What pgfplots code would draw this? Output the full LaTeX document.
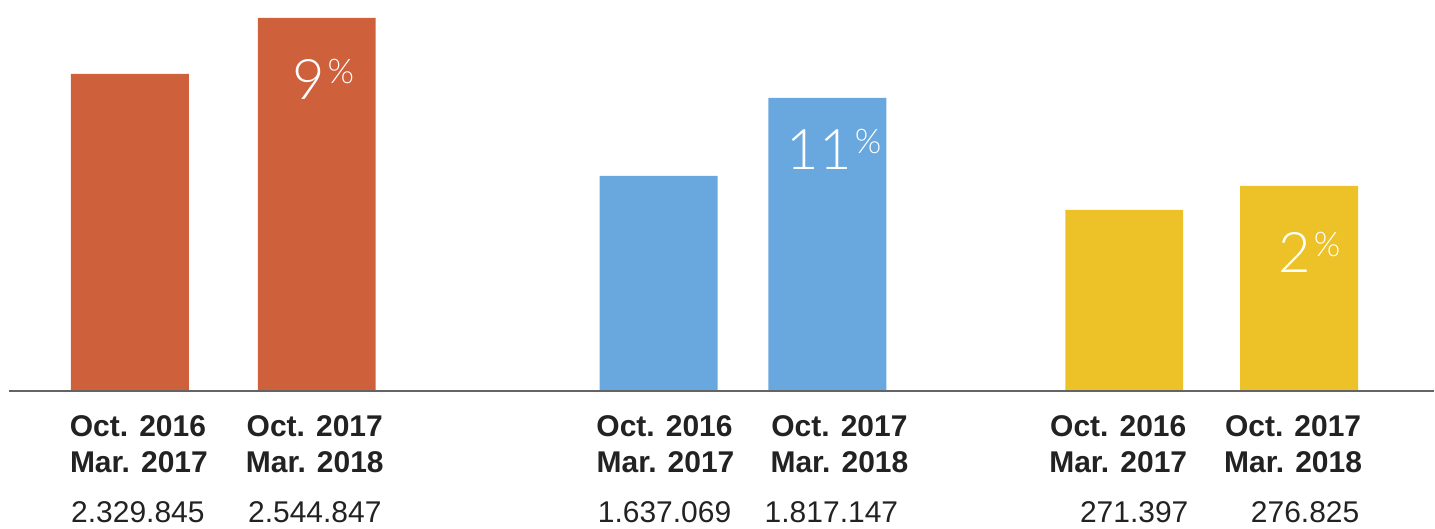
\documentclass[border=0pt]{standalone}
\usepackage{pgfplots}
\pgfplotsset{compat=1.18}
\usepackage{fontspec}
\setmainfont{Liberation Sans}
\newfontfamily\lightfont{Lato Light}
\definecolor{cOrange}{RGB}{207,96,60}
\definecolor{cBlue}{RGB}{104,168,222}
\definecolor{cYellow}{RGB}{236,194,40}
\definecolor{cText}{RGB}{34,34,34}
\definecolor{cAxis}{RGB}{100,100,100}
\newcommand{\pct}[1]{{\lightfont\fontsize{28}{28}\selectfont #1}\kern1.5pt\raisebox{8pt}{\lightfont\fontsize{17}{17}\selectfont\%}}
\tikzset{
  lbl/.style={anchor=base, inner sep=0pt, text=cText, font=\bfseries\fontsize{15}{18}\selectfont},
  num/.style={anchor=base, inner sep=0pt, text=cText, font=\fontsize{15}{18}\selectfont},
  pc/.style={anchor=base west, inner sep=0pt, text=white}}
\begin{document}
\begin{tikzpicture}
\begin{axis}[scale only axis, width=717.5pt, height=264.5pt,
  xmin=0, xmax=1435, ymin=-138, ymax=391,
  hide axis, clip=false, ybar, bar width=59pt]
\path (rel axis cs:0,0) rectangle (rel axis cs:1,1);
\addplot[fill=cOrange, draw=none, bar shift=0pt] coordinates {(130,317) (317,373)};
\addplot[fill=cBlue, draw=none, bar shift=0pt] coordinates {(659,215) (828,293)};
\addplot[fill=cYellow, draw=none, bar shift=0pt] coordinates {(1125,181) (1300,205)};
\addplot[sharp plot, no markers, cAxis, line width=1pt] coordinates {(9,0) (1435,0)};
% percent labels
\node[pc] at (axis cs:292,291) {\pct{9}};
\node[pc] at (axis cs:787,221) {\pct{11}};
\node[pc] at (axis cs:1279,118) {\pct{2}};
% category labels
\node[lbl] at (axis cs:138,-46) {Oct. 2016};
\node[lbl] at (axis cs:139,-82) {Mar. 2017};
\node[lbl] at (axis cs:315,-46) {Oct. 2017};
\node[lbl] at (axis cs:315,-82) {Mar. 2018};
\node[lbl] at (axis cs:665,-46) {Oct. 2016};
\node[lbl] at (axis cs:666,-82) {Mar. 2017};
\node[lbl] at (axis cs:840,-46) {Oct. 2017};
\node[lbl] at (axis cs:840,-82) {Mar. 2018};
\node[lbl] at (axis cs:1119,-46) {Oct. 2016};
\node[lbl] at (axis cs:1119,-82) {Mar. 2017};
\node[lbl] at (axis cs:1294,-46) {Oct. 2017};
\node[lbl] at (axis cs:1294,-82) {Mar. 2018};
% values
\node[num] at (axis cs:138,-132) {2.329.845};
\node[num] at (axis cs:315,-132) {2.544.847};
\node[num] at (axis cs:665,-132) {1.637.069};
\node[num] at (axis cs:832,-132) {1.817.147};
\node[num] at (axis cs:1135,-132) {271.397};
\node[num] at (axis cs:1306,-132) {276.825};
\end{axis}
\end{tikzpicture}
\end{document}
